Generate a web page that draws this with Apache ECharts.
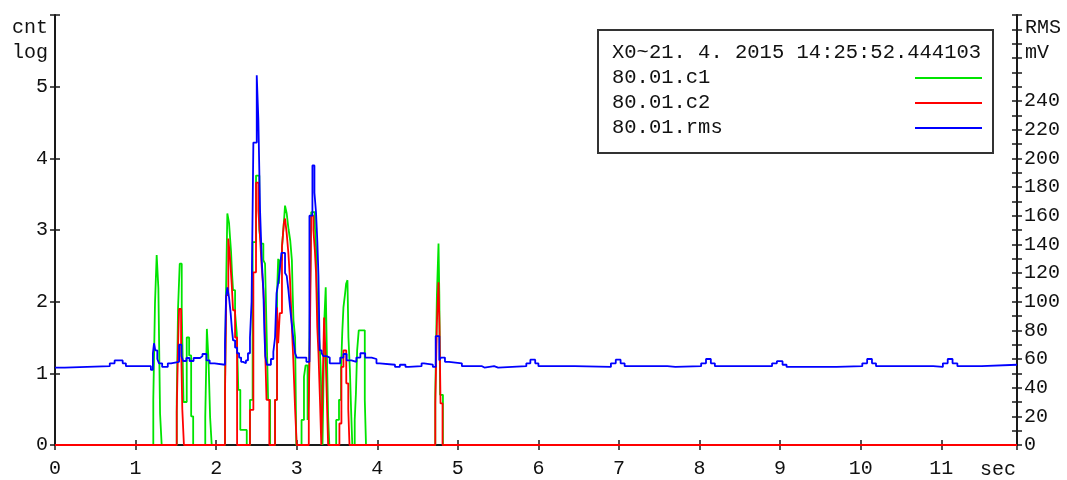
<!DOCTYPE html>
<html>
<head>
<meta charset="utf-8">
<script src="https://cdn.jsdelivr.net/npm/echarts@6/dist/echarts.min.js"></script>
<style>
html,body{margin:0;padding:0;background:#fff;}
#chart{width:1067px;height:480px;}
</style>
</head>
<body>
<div id="chart"></div>
<script>
// ---- data (time in sec, value) ----
const c1Data = [
 [0,0],
 [1.220,0.63],[1.241,1.97],[1.262,2.65],[1.283,2.19],[1.304,0.44],[1.324,0],
 [1.511,0.6],[1.527,1.9],[1.548,2.53],[1.573,1.9],[1.595,0.6],[1.635,1.5],[1.665,1.25],[1.690,0.4],[1.715,0],
 [1.865,0.39],[1.885,1.62],[1.905,1.2],[1.925,0.39],[1.945,0],
 [2.110,0.78],[2.123,2.17],[2.139,3.23],[2.160,3.1],[2.172,2.9],[2.185,2.7],[2.197,2.4],[2.210,2.16],[2.235,1.84],[2.256,1.56],[2.275,0.77],[2.300,0.21],[2.380,0],
 [2.420,0.63],[2.453,2.83],[2.495,3.76],[2.536,3.0],[2.557,2.81],[2.586,2.58],[2.607,2.53],[2.628,1.5],[2.645,0.63],[2.670,0],
 [2.731,0.63],[2.756,2.11],[2.770,2.6],[2.780,2.25],[2.790,2.58],[2.817,2.76],[2.840,3.09],[2.855,3.34],[2.876,3.23],[2.890,3.09],[2.900,3.0],[2.920,2.85],[2.940,2.58],[2.950,2.11],[2.960,1.74],[2.980,1.5],[2.995,0],
 [3.060,0.35],[3.090,0.95],[3.110,1.11],[3.135,0.35],
 [3.150,0.63],[3.165,2.02],[3.180,3.25],[3.226,3.04],[3.240,2.76],[3.250,2.2],[3.270,1.64],[3.290,1.28],[3.300,0.95],[3.320,0],
 [3.330,0.7],[3.345,1.8],[3.360,2.2],[3.375,1.25],[3.390,0.4],[3.405,0],
 [3.490,0.35],[3.525,0.63],[3.550,1.05],[3.565,1.56],[3.580,1.92],[3.600,2.11],[3.613,2.25],[3.630,2.3],[3.642,1.5],[3.660,1.05],[3.675,0.49],[3.690,0],
 [3.720,0.35],[3.735,0.72],[3.750,1.32],[3.770,1.6],[3.845,0.63],[3.860,0],
 [4.720,0.7],[4.740,2.09],[4.760,2.81],[4.770,2.1],[4.780,0.7],[4.815,0],
 [11.94,0]
];
const c2Data = [
 [0,0],
 [1.511,0.46],[1.527,1.38],[1.540,1.9],[1.565,1.4],[1.580,0.5],[1.600,0],
 [2.110,0.72],[2.126,2.09],[2.151,2.88],[2.172,2.62],[2.194,2.23],[2.210,1.88],[2.235,1.5],[2.260,0],
 [2.420,0.49],[2.462,2.41],[2.495,3.66],[2.524,3.27],[2.545,2.9],[2.563,2.53],[2.586,2.16],[2.600,1.88],[2.613,1.14],[2.625,0.63],[2.660,0],
 [2.731,0.63],[2.756,1.92],[2.770,1.42],[2.790,1.84],[2.817,2.76],[2.840,3.09],[2.855,3.16],[2.876,2.95],[2.897,2.67],[2.917,2.3],[2.938,1.7],[2.958,1.18],[2.980,0.5],[3.000,0],
 [3.150,0.63],[3.165,1.6],[3.180,3.2],[3.207,3.0],[3.225,2.72],[3.240,2.4],[3.255,1.65],[3.270,1.28],[3.290,0.58],[3.305,0],
 [3.320,0.72],[3.340,1.78],[3.360,1.2],[3.375,0.6],[3.390,0],
 [3.530,0.3],[3.555,1.09],[3.580,1.32],[3.615,0.86],[3.640,0.5],[3.655,0],
 [4.720,0.58],[4.740,1.7],[4.760,2.27],[4.772,1.67],[4.785,0.58],[4.810,0],
 [11.94,0]
];
const rmsData = [
 [0,54],[0.12,55],[0.68,57],[0.74,59],[0.84,57],[0.88,55],
 [1.19,52.5],[1.215,64],[1.229,71],[1.245,66],[1.27,60],[1.29,57],[1.33,54.5],[1.40,57],[1.44,58],
 [1.54,70],[1.57,62],[1.59,58.6],[1.63,60.7],[1.67,58.6],[1.72,60.7],[1.80,62],[1.83,63.5],[1.88,59],[1.92,57],[1.98,56],
 [2.110,71],[2.123,103],[2.139,110],[2.160,103],[2.180,92],[2.197,80],[2.210,73],[2.235,68],[2.260,64],[2.285,61],[2.310,58],[2.335,57],[2.370,59],[2.395,64],
 [2.420,75],[2.440,100],[2.462,211],[2.504,258],[2.524,227],[2.545,164],[2.566,129],[2.586,108],[2.598,80],[2.610,62],[2.630,56],[2.680,60],[2.710,65],
 [2.731,75],[2.750,106],[2.770,113],[2.786,120],[2.810,134],[2.855,120],[2.876,118],[2.897,108],[2.917,96],[2.938,85],[2.960,73],[2.980,64],[3.000,61],
 [3.120,58],[3.158,160],[3.195,195],[3.220,176],[3.240,162],[3.256,142],[3.270,118],[3.285,66],[3.310,64],[3.330,62],[3.370,61],[3.410,57],
 [3.540,61],[3.580,63.5],[3.620,59],[3.680,58],[3.740,61],[3.790,64],[3.850,61],[3.930,60],[3.990,57],[4.030,56],
 [4.220,54.5],[4.280,56],[4.350,54.5],[4.390,55],[4.550,57],[4.580,56],[4.690,54.5],
 [4.725,76],[4.770,59],[4.790,61],[4.840,58],[4.890,57],[5.050,55],
 [5.30,54],[5.33,55],[5.45,54],[5.50,55],[5.85,57],[5.90,59.5],[5.96,57],[6.00,55],
 [6.45,54.5],[6.90,57],[6.96,59.5],[7.02,57],[7.07,55],[7.60,54.5],[7.70,55],
 [8.02,57],[8.08,60],[8.14,57],[8.19,55],[8.90,57],[8.96,58.5],[9.03,56],[9.08,54.5],[9.70,55],
 [10.02,57],[10.08,60],[10.14,57],[10.19,55],[10.90,54.5],[11.02,57],[11.08,60],[11.14,57],[11.20,55],[11.50,56],[11.94,56]
];
const xTickLabels = ['0','1','2','3','4','5','6','7','8','9','10','11'];
const leftTickLabels = ['0','1','2','3','4','5'];
const rightTickLabels = ['0','20','40','60','80','100','120','140','160','180','200','220','240'];
const seriesNames = ['80.01.c1','80.01.c2','80.01.rms'];
const seriesColors = ['#00e400','#ff0000','#0000ff'];
const legendTitle = 'X0~21. 4. 2015 14:25:52.444103';
const leftUnit = ['cnt','log'];
const rightUnit = ['RMS','mV'];
const xUnit = 'sec';

const FONT = "'Liberation Mono', 'Courier New', monospace";
const FS = 20;
const LFS = 20.5;
const TXT = '#111';
const AX = '#1a1a1a';
const LW = 1.8;

const chart = echarts.init(document.getElementById('chart'), null, {renderer:'canvas'});

function baseX(extra){
  return Object.assign({
    type:'value', min:0, max:11.94, interval:1, position:'bottom',
    splitLine:{show:false},
    axisLine:{onZero:false, lineStyle:{color:AX, width:2}},
    axisTick:{length:5, lineStyle:{color:AX, width:1.5}},
    axisLabel:{show:false}
  }, extra);
}
const gl = 55, gr = 1067-1017, gt = 15, gb = 480-445;

const option = {
  animation:false,
  grid:{left:gl, right:gr, top:gt, bottom:gb, containLabel:false},
  xAxis:[
    baseX({axisLabel:{show:true, margin:14, color:TXT, fontFamily:FONT, fontSize:FS,
      formatter:v => (Number.isInteger(v) && xTickLabels[v] !== undefined) ? xTickLabels[v] : ''}}),
    baseX({axisLine:{show:false, onZero:false}, axisTick:{inside:true, length:5, lineStyle:{color:AX, width:1.5}}})
  ],
  yAxis:[
    {type:'value', min:0, max:6, interval:1, position:'left', offset:0,
     splitLine:{show:false},
     axisLine:{show:true, onZero:false, lineStyle:{color:AX, width:2}},
     axisTick:{show:true, length:5, lineStyle:{color:AX, width:1.5}},
     axisLabel:{margin:7, color:TXT, fontFamily:FONT, fontSize:FS,
       formatter:v => (leftTickLabels[v] !== undefined ? leftTickLabels[v] : '')}},
    {type:'value', min:0, max:300, interval:10, position:'right', offset:0,
     splitLine:{show:false},
     axisLine:{show:true, onZero:false, lineStyle:{color:AX, width:2}},
     axisTick:{show:true, length:5, lineStyle:{color:AX, width:1.5}},
     axisLabel:{margin:7, color:TXT, fontFamily:FONT, fontSize:FS,
       formatter:v => (v % 20 === 0 && rightTickLabels[v/20] !== undefined ? rightTickLabels[v/20] : '')}},
    {type:'value', min:0, max:6, interval:1, position:'left', offset:0,
     splitLine:{show:false}, axisLine:{show:false, onZero:false},
     axisTick:{show:true, inside:true, length:5, lineStyle:{color:AX, width:1.5}},
     axisLabel:{show:false}},
    {type:'value', min:0, max:300, interval:10, position:'right', offset:0,
     splitLine:{show:false}, axisLine:{show:false, onZero:false},
     axisTick:{show:true, inside:true, length:5, lineStyle:{color:AX, width:1.5}},
     axisLabel:{show:false}}
  ],
  series:[
    {name:seriesNames[0], type:'line', step:'end', xAxisIndex:0, yAxisIndex:0, data:c1Data,
     symbol:'none', lineStyle:{color:seriesColors[0], width:LW}, z:3},
    {name:seriesNames[1], type:'line', step:'end', xAxisIndex:0, yAxisIndex:0, data:c2Data,
     symbol:'none', lineStyle:{color:seriesColors[1], width:LW}, z:4},
    {name:seriesNames[2], type:'line', step:'end', xAxisIndex:0, yAxisIndex:1, data:rmsData,
     symbol:'none', lineStyle:{color:seriesColors[2], width:LW}, z:5}
  ],
  graphic:[
    {type:'text', x:48, y:28, style:{text:leftUnit[0], fill:TXT, font:FS+'px '+FONT, align:'right', verticalAlign:'middle'}},
    {type:'text', x:48, y:53, style:{text:leftUnit[1], fill:TXT, font:FS+'px '+FONT, align:'right', verticalAlign:'middle'}},
    {type:'text', x:1025, y:28, style:{text:rightUnit[0], fill:TXT, font:FS+'px '+FONT, align:'left', verticalAlign:'middle'}},
    {type:'text', x:1025, y:53, style:{text:rightUnit[1], fill:TXT, font:FS+'px '+FONT, align:'left', verticalAlign:'middle'}},
    {type:'text', x:998, y:470, style:{text:xUnit, fill:TXT, font:FS+'px '+FONT, align:'center', verticalAlign:'middle'}},
    {type:'group', x:598, y:30, z:100, children:[
      {type:'rect', shape:{x:0, y:0, width:395, height:123}, style:{fill:'#fff', stroke:'#333', lineWidth:2}},
      {type:'text', x:14, y:23, style:{text:legendTitle, fill:TXT, font:LFS+'px '+FONT, verticalAlign:'middle'}},
      {type:'text', x:14, y:48, style:{text:seriesNames[0], fill:TXT, font:LFS+'px '+FONT, verticalAlign:'middle'}},
      {type:'text', x:14, y:73, style:{text:seriesNames[1], fill:TXT, font:LFS+'px '+FONT, verticalAlign:'middle'}},
      {type:'text', x:14, y:98, style:{text:seriesNames[2], fill:TXT, font:LFS+'px '+FONT, verticalAlign:'middle'}},
      {type:'line', shape:{x1:317, y1:48, x2:384, y2:48}, style:{stroke:seriesColors[0], lineWidth:2}},
      {type:'line', shape:{x1:317, y1:73, x2:384, y2:73}, style:{stroke:seriesColors[1], lineWidth:2}},
      {type:'line', shape:{x1:317, y1:98, x2:384, y2:98}, style:{stroke:seriesColors[2], lineWidth:2}}
    ]}
  ]
};
chart.setOption(option);
</script>
</body>
</html>
